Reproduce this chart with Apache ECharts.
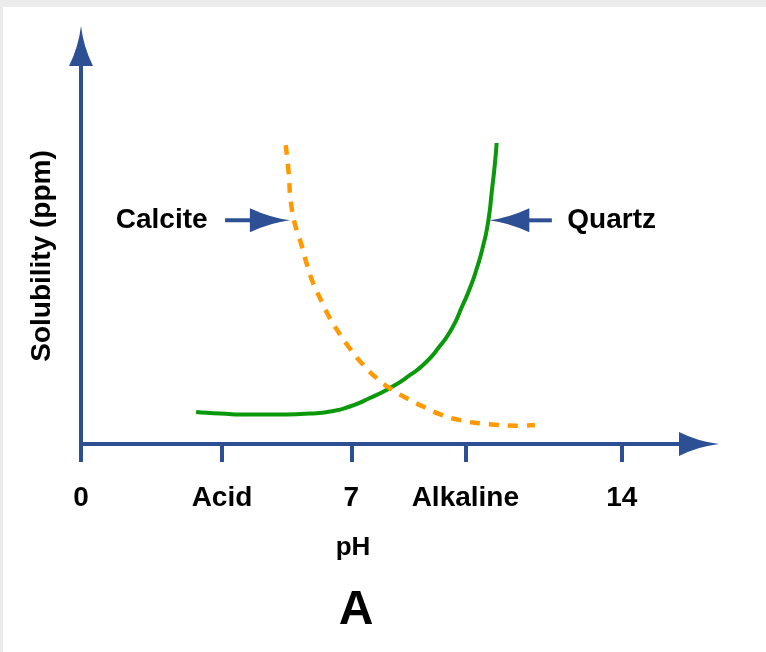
<!DOCTYPE html>
<html><head><meta charset="utf-8">
<script src="https://cdn.jsdelivr.net/npm/echarts@6/dist/echarts.min.js"></script>
<style>
html,body{margin:0;padding:0;background:#ebebeb;width:766px;height:652px;overflow:hidden}
#bg{position:absolute;left:3px;top:7px;width:763px;height:645px;background:#fff}
#chart{position:absolute;left:0;top:0;width:766px;height:652px}
</style></head><body><div id="bg"></div><div id="chart"></div>
<script>
// ---- data ----
const tickValues = [0, 3.65, 7, 9.95, 14];
const tickLabels = ['0', 'Acid', '7', 'Alkaline', '14'];

const quartzPH  = [2.98, 3.60, 4.38, 5.15, 5.93, 6.45, 6.96, 7.48, 8.00, 8.52, 8.91, 9.29, 9.61, 9.86, 10.07, 10.25, 10.41, 10.54, 10.64, 10.72, 10.76];
const quartzSol = [8.04, 7.66, 7.41, 7.41, 7.66, 8.17, 9.42, 11.56, 14.07, 17.34, 20.35, 24.62, 29.15, 34.42, 39.2, 44.22, 49.75, 55.78, 63.82, 70.85, 75.63];

const calcitePH  = [5.30, 5.37, 5.45, 5.58, 5.71, 5.84, 6.01, 6.19, 6.40, 6.66, 6.96, 7.27, 7.66, 8.00, 8.43, 8.86, 9.34, 9.81, 10.33, 10.80, 11.28, 11.75];
const calciteSol = [75.1, 68.8, 59.6, 53.8, 50.0, 45.4, 40.4, 36.6, 32.4, 28.2, 24.0, 20.3, 16.5, 14.0, 11.5, 9.4, 7.3, 6.0, 5.2, 4.8, 4.6, 4.8];

// annotation arrows (data coords)
const annotLevel = 56.2;
const calciteShaft = [3.73, 4.7];
const calciteHead = 4.89;
const quartzShaft = [11.4, 12.19];
const quartzHead = 11.09;
const annotNames = ['Calcite', 'Quartz'];

const xLabel = 'pH';
const yLabel = 'Solubility (ppm)';
const panelLetter = 'A';

// ---- styles ----
const BLUE = '#2c5093';
const FONT = "'Liberation Sans', Arial, Helvetica, sans-serif";
const AXIS_ARROW = 'path://M30,0 Q36,52 60,100 L0,100 Q24,52 30,0 Z';
const HEAD_RIGHT = 'path://M0,0 Q52,40 100,50 Q52,60 0,100 Z';
const LABEL_STYLE = {color: '#000', fontSize: 28, fontWeight: 'bold', fontFamily: FONT};

const zip = (a, b) => a.map((v, i) => [v, b[i]]);

const chart = echarts.init(document.getElementById('chart'), null, {renderer: 'canvas'});
chart.setOption({
  animation: false,
  grid: {left: 81, right: 67, top: 46, bottom: 208},
  xAxis: {
    type: 'value', min: 0, max: 16,
    splitLine: {show: false},
    axisLine: {show: true, lineStyle: {color: BLUE, width: 4}, symbol: ['none', AXIS_ARROW], symbolSize: [24, 40]},
    axisTick: {show: true, inside: false, length: 18, lineStyle: {color: BLUE, width: 4}, customValues: tickValues},
    axisLabel: Object.assign({show: true, margin: 40, customValues: tickValues,
      formatter: v => { const i = tickValues.indexOf(v); return i >= 0 ? tickLabels[i] : ''; }}, LABEL_STYLE)
  },
  yAxis: {
    type: 'value', min: 0, max: 100,
    splitLine: {show: false},
    axisLine: {show: true, lineStyle: {color: BLUE, width: 4}, symbol: ['none', AXIS_ARROW], symbolSize: [24, 40]},
    axisTick: {show: false},
    axisLabel: {show: false}
  },
  graphic: [
    {type: 'text', x: 42, y: 256, rotation: Math.PI / 2,
      style: {text: yLabel, fill: '#000', font: 'bold 28px ' + FONT, textAlign: 'center', textVerticalAlign: 'middle'}},
    {type: 'text', x: 353, y: 548,
      style: {text: xLabel, fill: '#000', font: 'bold 26px ' + FONT, textAlign: 'center', textVerticalAlign: 'middle'}},
    {type: 'text', x: 356, y: 611,
      style: {text: panelLetter, fill: '#000', font: 'bold 48px ' + FONT, textAlign: 'center', textVerticalAlign: 'middle'}}
  ],
  series: [
    {type: 'line', name: 'Quartz', data: zip(quartzPH, quartzSol), smooth: 0.6, symbol: 'none',
      lineStyle: {color: '#0a990a', width: 4}, z: 3},
    {type: 'line', name: 'Calcite', data: zip(calcitePH, calciteSol), smooth: 0.6, symbol: 'none',
      lineStyle: {color: '#ff9900', width: 4.5, type: [10, 9]}, z: 3},
    {type: 'line', data: calciteShaft.map(x => [x, annotLevel]), symbol: 'none', lineStyle: {color: BLUE, width: 4}, z: 4},
    {type: 'line', data: quartzShaft.map(x => [x, annotLevel]), symbol: 'none', lineStyle: {color: BLUE, width: 4}, z: 4},
    {type: 'scatter', symbol: HEAD_RIGHT, symbolSize: [40, 24], itemStyle: {color: BLUE, opacity: 1}, z: 5,
      data: [{value: [calciteHead, annotLevel], symbolRotate: 0}, {value: [quartzHead, annotLevel], symbolRotate: 180}]},
    {type: 'scatter', symbolSize: 1, itemStyle: {color: 'rgba(0,0,0,0)', opacity: 1}, z: 5,
      data: [
        {value: [calciteShaft[0], annotLevel], label: Object.assign({show: true, position: 'left', distance: 17, formatter: annotNames[0]}, LABEL_STYLE)},
        {value: [quartzShaft[1], annotLevel], label: Object.assign({show: true, position: 'right', distance: 15, formatter: annotNames[1]}, LABEL_STYLE)}
      ]}
  ]
});
</script></body></html>
